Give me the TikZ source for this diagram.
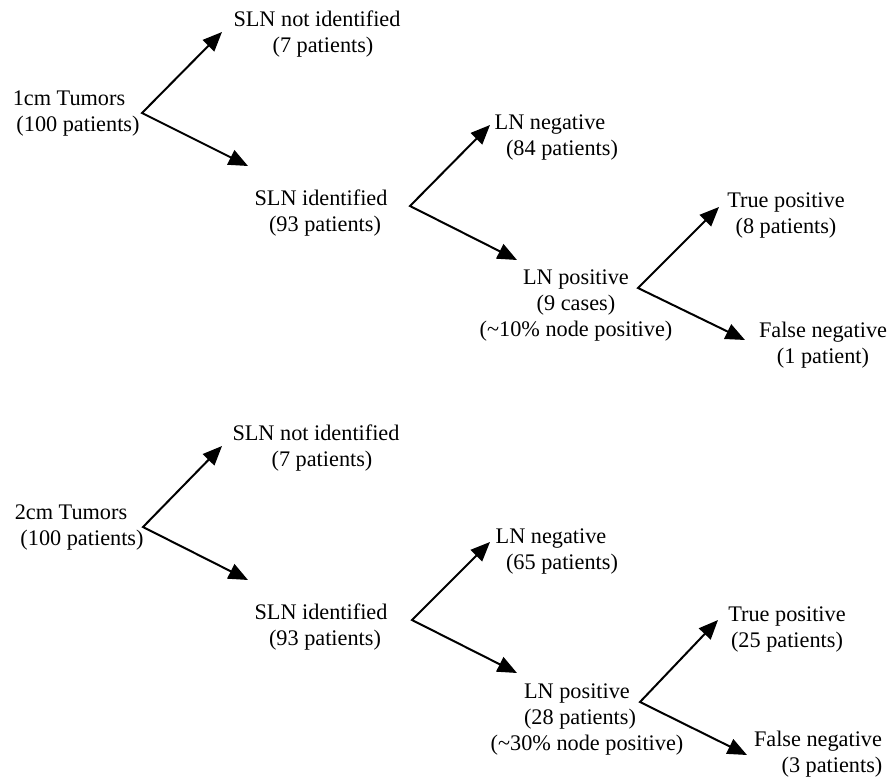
\documentclass[tikz,border=0pt]{standalone}
\usepackage{fontspec}
\setmainfont{Liberation Serif}
\usetikzlibrary{arrows.meta}
\begin{document}
\begin{tikzpicture}[x=0.75pt,y=-0.75pt,
  lbl/.style={align=center,anchor=base,inner sep=0pt,font=\fontsize{16.7}{19.5}\selectfont},
  fork/.style={line width=1.5pt,line join=miter,
    {Triangle[length=14.5pt,width=12pt]}-{Triangle[length=14.5pt,width=12pt]}}]
\useasboundingbox (0,0) rectangle (890,778);

% ---------- top tree (node base = baseline of last line) ----------
\node[lbl] (t1)  at (69,131)  {1cm Tumors\\\hspace*{13.5pt}(100 patients)};
\node[lbl] (n1)  at (317,52)  {SLN not identified\\\hspace*{9pt}(7 patients)};
\node[lbl] (s1)  at (321,231) {SLN identified\\\hspace*{6pt}(93 patients)};
\node[lbl] (ng1) at (550,155) {LN negative\\\hspace*{18pt}(84 patients)};
\node[lbl] (p1)  at (576,336) {LN positive\\(9 cases)\\(\textasciitilde10\% node positive)};
\node[lbl] (tp1) at (786,233) {True positive\\(8 patients)};
\node[lbl] (fn1) at (823,363) {False negative\\(1 patient)};

\coordinate (v1) at (142,113); \coordinate (a1) at (222,32);  \coordinate (b1) at (248,166);
\coordinate (v2) at (410,206); \coordinate (a2) at (490,125); \coordinate (b2) at (517,260);
\coordinate (v3) at (638,288); \coordinate (a3) at (719,207); \coordinate (b3) at (745,340);

\draw[fork] (a1) -- (v1) -- (b1);
\draw[fork] (a2) -- (v2) -- (b2);
\draw[fork] (a3) -- (v3) -- (b3);

% ---------- bottom tree ----------
\node[lbl] (t2)  at (71,545)  {2cm Tumors\\\hspace*{16.5pt}(100 patients)};
\node[lbl] (n2)  at (316,466) {SLN not identified\\\hspace*{9pt}(7 patients)};
\node[lbl] (s2)  at (321,645) {SLN identified\\\hspace*{6pt}(93 patients)};
\node[lbl] (ng2) at (551,569) {LN negative\\\hspace*{16.5pt}(65 patients)};
\node[lbl] (p2)  at (577,750) {LN positive\\\hspace*{4.5pt}(28 patients)\\\hspace*{15pt}(\textasciitilde30\% node positive)};
\node[lbl] (tp2) at (787,647) {True positive\\(25 patients)};
\node[lbl] (fn2) at (818,772) {False negative\\\hspace*{21pt}(3 patients)};

\coordinate (w1) at (143,527); \coordinate (c1) at (222,446); \coordinate (d1) at (248,580);
\coordinate (w2) at (412,620); \coordinate (c2) at (490,542); \coordinate (d2) at (517,673);
\coordinate (w3) at (640,702); \coordinate (c3) at (718,620); \coordinate (d3) at (747,755);

\draw[fork] (c1) -- (w1) -- (d1);
\draw[fork] (c2) -- (w2) -- (d2);
\draw[fork] (c3) -- (w3) -- (d3);
\end{tikzpicture}
\end{document}
